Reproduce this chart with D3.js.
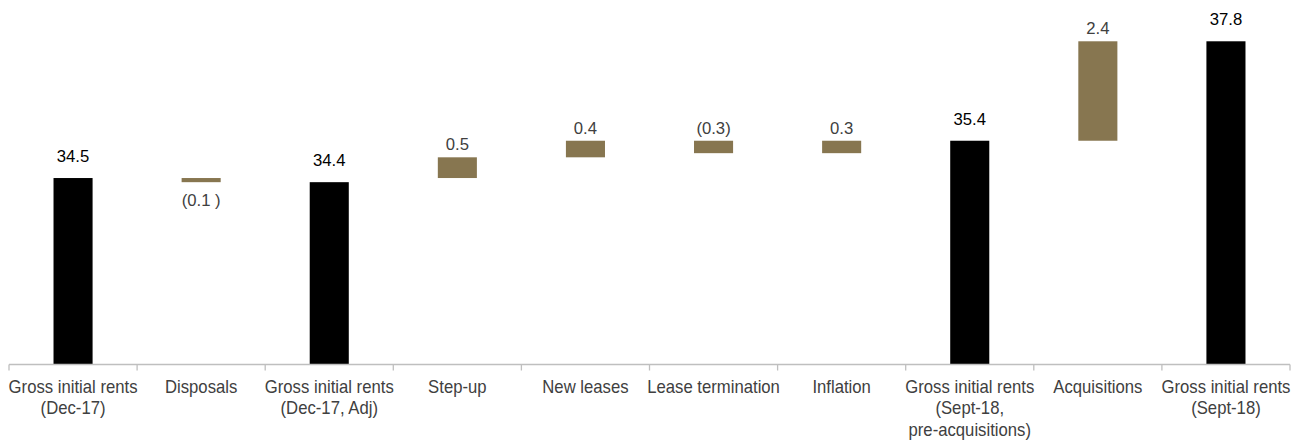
<!DOCTYPE html>
<html>
<head>
<meta charset="utf-8">
<script src="https://cdn.jsdelivr.net/npm/d3@7"></script>
<style>
  body { margin: 0; background: #fff; }
  text { font-family: Arial, "Liberation Sans", sans-serif; }
</style>
</head>
<body>
<div id="chart"></div>
<script>
// categories (each entry is the lines of the label)
const categories = [
  ['Gross initial rents', '(Dec-17)'],
  ['Disposals'],
  ['Gross initial rents', '(Dec-17, Adj)'],
  ['Step-up'],
  ['New leases'],
  ['Lease termination'],
  ['Inflation'],
  ['Gross initial rents', '(Sept-18,', 'pre-acquisitions)'],
  ['Acquisitions'],
  ['Gross initial rents', '(Sept-18)']
];
// bottom and top of every bar
const lows  = [30, 34.4, 30, 34.5, 35.0, 35.1, 35.1, 30, 35.4, 30];
const highs = [34.5, 34.5, 34.4, 35.0, 35.4, 35.4, 35.4, 35.4, 37.8, 37.8];
const isTotal = [true, false, true, false, false, false, false, true, false, true];
const valueLabels = ['34.5', '(0.1 )', '34.4', '0.5', '0.4', '(0.3)', '0.3', '35.4', '2.4', '37.8'];
const labelBelow = [false, true, false, false, false, false, false, false, false, false];
const yDomain = [30, 38];

const W = 1298, H = 442;
const svg = d3.select('#chart').append('svg')
  .attr('width', W)
  .attr('height', H);

const x = d3.scaleBand()
  .domain(d3.range(categories.length))
  .range([9, 1290])
  .padding(0);

const y = d3.scaleLinear()
  .domain(yDomain)
  .range([364.5, 33]);

const barW = x.bandwidth() * 0.305;
const tan = '#877650';

// bars
svg.selectAll('.bar')
  .data(categories)
  .enter()
  .append('rect')
  .attr('class', 'bar')
  .attr('x', (d, i) => x(i) + x.bandwidth() / 2 - barW / 2)
  .attr('y', (d, i) => y(highs[i]))
  .attr('width', barW)
  .attr('height', (d, i) => y(lows[i]) - y(highs[i]))
  .attr('fill', (d, i) => isTotal[i] ? '#000' : tan);

// value labels
svg.selectAll('.val')
  .data(valueLabels)
  .enter()
  .append('text')
  .attr('class', 'val')
  .attr('x', (d, i) => x(i) + x.bandwidth() / 2)
  .attr('y', (d, i) => {
    if (labelBelow[i]) return y(lows[i]) + 24;
    return y(highs[i]) - (isTotal[i] ? 16 : 7);
  })
  .attr('text-anchor', 'middle')
  .style('font-size', '16.7px')
  .attr('fill', (d, i) => isTotal[i] ? '#000' : '#404040')
  .text(d => d);

// x axis
const axisG = svg.append('g')
  .attr('transform', `translate(0,${y(yDomain[0])})`);

axisG.append('line')
  .attr('x1', 9).attr('x2', 1290)
  .attr('y1', 0).attr('y2', 0)
  .attr('stroke', '#bfbfbf')
  .attr('stroke-width', 1.3);

const tickPos = d3.range(categories.length).map(i => x(i)).concat([x.range()[1]]);
axisG.selectAll('.tick')
  .data(tickPos)
  .enter()
  .append('line')
  .attr('x1', d => d).attr('x2', d => d)
  .attr('y1', 0).attr('y2', 6)
  .attr('stroke', '#bfbfbf')
  .attr('stroke-width', 1.3);

const catG = svg.selectAll('.cat')
  .data(categories)
  .enter()
  .append('text')
  .attr('class', 'cat')
  .attr('transform', (d, i) => `translate(${x(i) + x.bandwidth() / 2},393) scale(1,1.1)`)
  .attr('text-anchor', 'middle')
  .style('font-size', '16.7px')
  .attr('fill', '#404040');

catG.selectAll('tspan')
  .data(d => d)
  .enter()
  .append('tspan')
  .attr('x', 0)
  .attr('y', (d, j) => j * 19.5)
  .text(d => d);
</script>
</body>
</html>
